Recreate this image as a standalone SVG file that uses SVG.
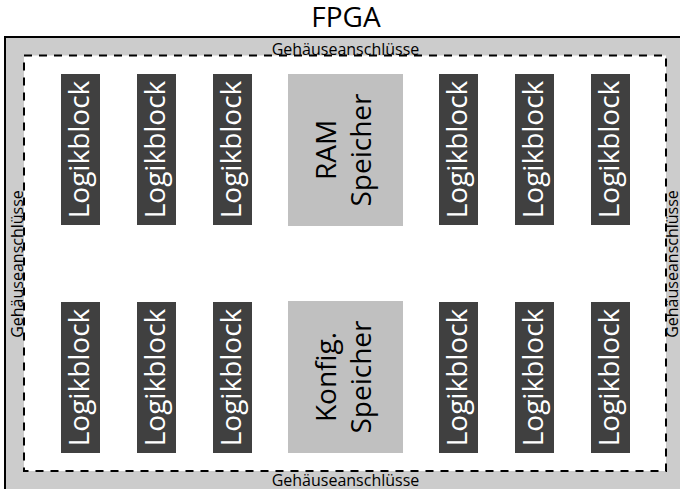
<svg xmlns="http://www.w3.org/2000/svg" width="680" height="489" viewBox="0 0 680 489">
<style>
text{font-family:"Open Sans","Noto Sans","Liberation Sans",sans-serif;}
.lb rect{fill:#404040;}
.lb text{fill:#ffffff;font-size:28px;text-anchor:middle;}
.mem rect{fill:#c0c0c0;}
.mem text{fill:#000000;font-size:28px;text-anchor:middle;}
.pin{font-size:16px;fill:#000000;text-anchor:middle;}
</style>
<text x="346" y="27" style="font-size:28px;text-anchor:middle;fill:#000">FPGA</text>
<g id="gehaeuse">
<rect x="5" y="37" width="682" height="470" fill="#cccccc" stroke="#000000" stroke-width="2"/>
<rect x="24" y="55.5" width="642" height="415.5" fill="#ffffff" stroke="#000000" stroke-width="2" stroke-dasharray="8,7"/>
<text class="pin" x="345.5" y="54.5">Gehäuseanschlüsse</text>
<text class="pin" x="345.5" y="486">Gehäuseanschlüsse</text>
<text class="pin" transform="translate(23,264) rotate(-90)">Gehäuseanschlüsse</text>
<text class="pin" transform="translate(678,264) rotate(-90)">Gehäuseanschlüsse</text>
</g>
<g id="lb1" class="lb"><rect x="61" y="74" width="39" height="151"/><text transform="translate(80.5,149.5) rotate(-90)" y="8">Logikblock</text></g>
<g id="lb2" class="lb"><rect x="137" y="74" width="39" height="151"/><text transform="translate(156.5,149.5) rotate(-90)" y="8">Logikblock</text></g>
<g id="lb3" class="lb"><rect x="213" y="74" width="39" height="151"/><text transform="translate(232.5,149.5) rotate(-90)" y="8">Logikblock</text></g>
<g id="lb4" class="lb"><rect x="439" y="74" width="39" height="151"/><text transform="translate(458.5,149.5) rotate(-90)" y="8">Logikblock</text></g>
<g id="lb5" class="lb"><rect x="515" y="74" width="39" height="151"/><text transform="translate(534.5,149.5) rotate(-90)" y="8">Logikblock</text></g>
<g id="lb6" class="lb"><rect x="591" y="74" width="39" height="151"/><text transform="translate(610.5,149.5) rotate(-90)" y="8">Logikblock</text></g>
<g id="lb7" class="lb"><rect x="61" y="302" width="39" height="151"/><text transform="translate(80.5,377.5) rotate(-90)" y="8">Logikblock</text></g>
<g id="lb8" class="lb"><rect x="137" y="302" width="39" height="151"/><text transform="translate(156.5,377.5) rotate(-90)" y="8">Logikblock</text></g>
<g id="lb9" class="lb"><rect x="213" y="302" width="39" height="151"/><text transform="translate(232.5,377.5) rotate(-90)" y="8">Logikblock</text></g>
<g id="lb10" class="lb"><rect x="439" y="302" width="39" height="151"/><text transform="translate(458.5,377.5) rotate(-90)" y="8">Logikblock</text></g>
<g id="lb11" class="lb"><rect x="515" y="302" width="39" height="151"/><text transform="translate(534.5,377.5) rotate(-90)" y="8">Logikblock</text></g>
<g id="lb12" class="lb"><rect x="591" y="302" width="39" height="151"/><text transform="translate(610.5,377.5) rotate(-90)" y="8">Logikblock</text></g>
<g id="ram" class="mem"><rect x="288" y="74" width="115" height="152"/><text transform="translate(345.5,150) rotate(-90)"><tspan x="0" y="-10">RAM</tspan><tspan x="0" y="25">Speicher</tspan></text></g>
<g id="konfig" class="mem"><rect x="288" y="301" width="115" height="152"/><text transform="translate(345.5,377) rotate(-90)"><tspan x="0" y="-10">Konfig.</tspan><tspan x="0" y="25">Speicher</tspan></text></g>
<g id="connectors"></g>
</svg>
